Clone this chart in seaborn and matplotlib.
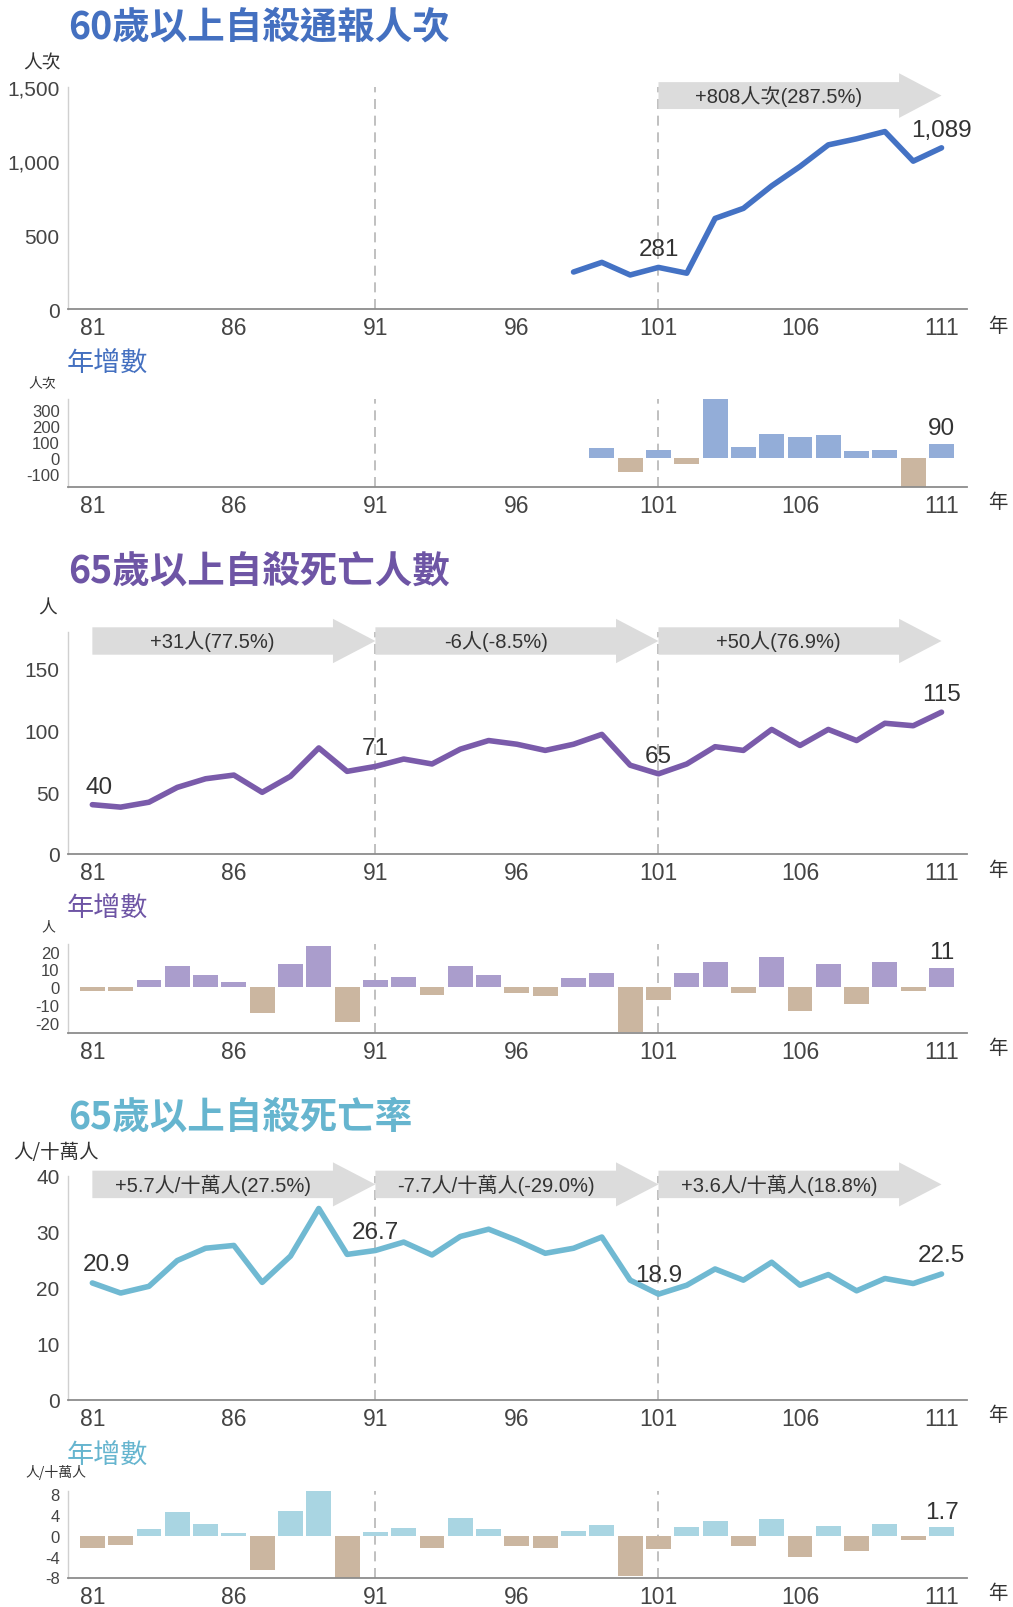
import numpy as np
import pandas as pd
import matplotlib
matplotlib.use("Agg")
import matplotlib.pyplot as plt
import seaborn as sns
from matplotlib import font_manager as fm
from matplotlib.ticker import FuncFormatter

# ---------------- data ----------------
report_years = list(range(98, 112))
report = [250, 315, 230, 281, 242, 612, 680, 832, 963, 1109, 1150, 1199, 999, 1089]
report_diff_years = list(range(99, 112))
report_diff = [65, -85, 51, -39, 370, 68, 152, 131, 146, 41, 49, -200, 90]

years = list(range(81, 112))
deaths = [40, 38, 42, 54, 61, 64, 50, 63, 86, 67, 71, 77, 73, 85, 92, 89, 84, 89, 97, 72,
          65, 73, 87, 84, 101, 88, 101, 92, 106, 104, 115]
deaths_diff = [-2, -2, 4, 12, 7, 3, -14, 13, 23, -19, 4, 6, -4, 12, 7, -3, -5, 5, 8, -25,
               -7, 8, 14, -3, 17, -13, 13, -9, 14, -2, 11]
rate = [20.9, 19.1, 20.3, 24.9, 27.1, 27.6, 21.0, 25.7, 34.2, 26.0, 26.7, 28.2, 25.9, 29.2,
        30.5, 28.5, 26.2, 27.1, 29.1, 21.4, 18.9, 20.5, 23.4, 21.4, 24.6, 20.5, 22.4, 19.5,
        21.7, 20.8, 22.5]
rate_diff = [-2.3, -1.8, 1.2, 4.6, 2.2, 0.5, -6.6, 4.7, 8.5, -8.2, 0.7, 1.5, -2.3, 3.3, 1.3,
             -2.0, -2.3, 0.9, 2.0, -7.7, -2.5, 1.6, 2.9, -2.0, 3.2, -4.1, 1.9, -2.9, 2.2,
             -0.9, 1.7]

titles = ["60歲以上自殺通報人次", "65歲以上自殺死亡人數", "65歲以上自殺死亡率"]
sub_title = "年增數"
units = ["人次", "人", "人/十萬人"]
arrows1 = [(101, 111, "+808人次(287.5%)")]
arrows2 = [(81, 91, "+31人(77.5%)"), (91, 101, "-6人(-8.5%)"), (101, 111, "+50人(76.9%)")]
arrows3 = [(81, 91, "+5.7人/十萬人(27.5%)"), (91, 101, "-7.7人/十萬人(-29.0%)"),
           (101, 111, "+3.6人/十萬人(18.8%)")]
xtick_labels = [81, 86, 91, 96, 101, 106, 111]

# ---------------- style ----------------
sns.set_style("white")
names = {f.name for f in fm.fontManager.ttflist}
LAT = "Liberation Sans Narrow" if "Liberation Sans Narrow" in names else "Liberation Sans"
CJK = "Noto Sans CJK TC"
plt.rcParams["font.family"] = [LAT, CJK, "DejaVu Sans"]
plt.rcParams["axes.unicode_minus"] = False

BLUE, BLUE_B = "#4472C4", "#93ADD8"
PURP, PURP_B = "#7A5BAA", "#AA9DCC"
CYAN, CYAN_B = "#70B9D2", "#A9D5E2"
TITLE_C = ["#4470C0", "#6E55A5", "#66B5CF"]
TAN = "#CBB6A0"
GREY_ARROW = "#DCDCDC"
TXT = "#333333"

W, H = 1013, 1608
fig = plt.figure(figsize=(W / 100, H / 100), dpi=100)

L, R = 68, 967
XLIM = (80.14, 111.9)


def add_ax(top, bottom):
    return fig.add_axes([L / W, 1 - bottom / H, (R - L) / W, (bottom - top) / H])


def ftext(x, y, s, **kw):
    fig.text(x / W, 1 - y / H, s, **kw)


def style_ax(ax, ylim, yticks, ysize, fmt=None):
    ax.set_xlim(*XLIM)
    ax.set_ylim(*ylim)
    ax.set_xticks(years)
    ax.set_xticklabels([str(y) if y in xtick_labels else "" for y in years])
    ax.set_yticks(yticks)
    if fmt:
        ax.yaxis.set_major_formatter(FuncFormatter(fmt))
    ax.tick_params(axis="x", direction="in", length=8, width=1, color="#777777",
                   labelsize=16.5, labelcolor="#444444", pad=5)
    ax.tick_params(axis="y", direction="out", length=4, width=1, color="#cccccc",
                   labelsize=ysize, labelcolor="#444444", pad=2)
    for s in ["top", "right"]:
        ax.spines[s].set_visible(False)
    ax.spines["left"].set_color("#d0d0d0")
    ax.spines["left"].set_linewidth(1)
    ax.spines["bottom"].set_color("#8c8c8c")
    ax.spines["bottom"].set_linewidth(1.3)
    ax.set_xlabel("")
    ax.set_ylabel("")
    for xv in (91, 101):
        ax.axvline(xv, color="#b5b5b5", lw=1.2, ls=(0, (6, 4)), zorder=0)


def draw_arrows(ax, arrows, c, bh, hh, size=14.5):
    for x0, x1, label in arrows:
        xh = x1 - 1.5
        xs = [x0, xh, xh, x1, xh, xh, x0]
        ys = [c - bh, c - bh, c - hh, c, c + hh, c + bh, c + bh]
        ax.fill(xs, ys, color=GREY_ARROW, clip_on=False, zorder=1, lw=0)
        ax.text((x0 + xh) / 2, c, label, ha="center", va="center", fontsize=size,
                color=TXT, zorder=2, clip_on=False)


def bars(ax, yrs, vals, pos_color):
    df = pd.DataFrame({"year": yrs, "val": vals})
    df["sign"] = np.where(df["val"] >= 0, "pos", "neg")
    sns.barplot(data=df, x="year", y="val", hue="sign", palette={"pos": pos_color, "neg": TAN},
                native_scale=True, dodge=False, width=0.88, legend=False, saturation=1,
                errorbar=None, linewidth=0, ax=ax, zorder=2)


def line(ax, yrs, vals, color):
    sns.lineplot(x=yrs, y=vals, color=color, lw=4, ax=ax, zorder=3)


def label(ax, x, y, s, dy, dx=0):
    ax.annotate(s, (x, y), xytext=(dx, dy), textcoords="offset points", ha="center",
                va="center", fontsize=17.5, color=TXT, zorder=5, annotation_clip=False)


def year_label(y):
    ftext(998, y, "年", fontsize=14, ha="center", va="center", color=TXT,
          family=[CJK])


def title(y, s, c):
    ftext(68, y, s, fontsize=27, fontweight="black", color=c, va="center", family=[CJK])


def subtitle(y, c):
    ftext(67, y, sub_title, fontsize=19.5, color=c, va="center", family=[CJK])


# ---------------- panel 1 ----------------
title(27, titles[0], TITLE_C[0])
ftext(42, 63, units[0], fontsize=13.5, ha="center", va="center", color=TXT, family=[CJK])
ax1 = add_ax(88, 310)
line(ax1, report_years, report, BLUE)
style_ax(ax1, (0, 1500), [0, 500, 1000, 1500], 15, fmt=lambda v, p: f"{v:,.0f}")
draw_arrows(ax1, arrows1, 1442, 91, 151)
label(ax1, 101, 281, "281", 13.5)
label(ax1, 111, 1089, "1,089", 13)
year_label(326)

subtitle(364, TITLE_C[0])
ftext(42, 383, units[0], fontsize=10, ha="center", va="center", color=TXT, family=[CJK])
ax2 = add_ax(400, 488)
bars(ax2, report_diff_years, report_diff, BLUE_B)
style_ax(ax2, (-180, 367), [-100, 0, 100, 200, 300], 12)
label(ax2, 111, 90, "90", 11)
year_label(503)

# ---------------- panel 2 ----------------
title(571, titles[1], TITLE_C[1])
ftext(48, 608, units[1], fontsize=13.5, ha="center", va="center", color=TXT, family=[CJK])
ax3 = add_ax(633, 855)
line(ax3, years, deaths, PURP)
style_ax(ax3, (0, 180), [0, 50, 100, 150], 15)
draw_arrows(ax3, arrows2, 172.7, 11.1, 18)
for x, s, dx in [(81, "40", 5), (91, "71", 0), (101, "65", 0), (111, "115", 0)]:
    label(ax3, x, deaths[years.index(x)], s, 13, dx)
year_label(871)

subtitle(909, TITLE_C[1])
ftext(48, 927, units[1], fontsize=10, ha="center", va="center", color=TXT, family=[CJK])
ax4 = add_ax(945, 1034)
bars(ax4, years, deaths_diff, PURP_B)
style_ax(ax4, (-25.4, 24.2), [-20, -10, 0, 10, 20], 12)
label(ax4, 111, 11, "11", 11)
year_label(1049)

# ---------------- panel 3 ----------------
title(1117, titles[2], TITLE_C[2])
ftext(56, 1153, units[2], fontsize=14, ha="center", va="center", color=TXT, family=[CJK])
ax5 = add_ax(1177, 1401)
line(ax5, years, rate, CYAN)
style_ax(ax5, (0, 40), [0, 10, 20, 30, 40], 15)
draw_arrows(ax5, arrows3, 38.5, 2.45, 3.94)
for x, s, dx in [(81, "20.9", 10), (91, "26.7", 0), (101, "18.9", 0), (111, "22.5", 0)]:
    label(ax5, x, rate[years.index(x)], s, 13.5, dx)
year_label(1416)

subtitle(1456, TITLE_C[2])
ftext(56, 1473, units[2], fontsize=10, ha="center", va="center", color=TXT, family=[CJK])
ax6 = add_ax(1492, 1579)
bars(ax6, years, rate_diff, CYAN_B)
style_ax(ax6, (-8.1, 8.55), [-8, -4, 0, 4, 8], 12)
label(ax6, 111, 1.7, "1.7", 11)
year_label(1594)

fig.savefig("out.png", dpi=100)
